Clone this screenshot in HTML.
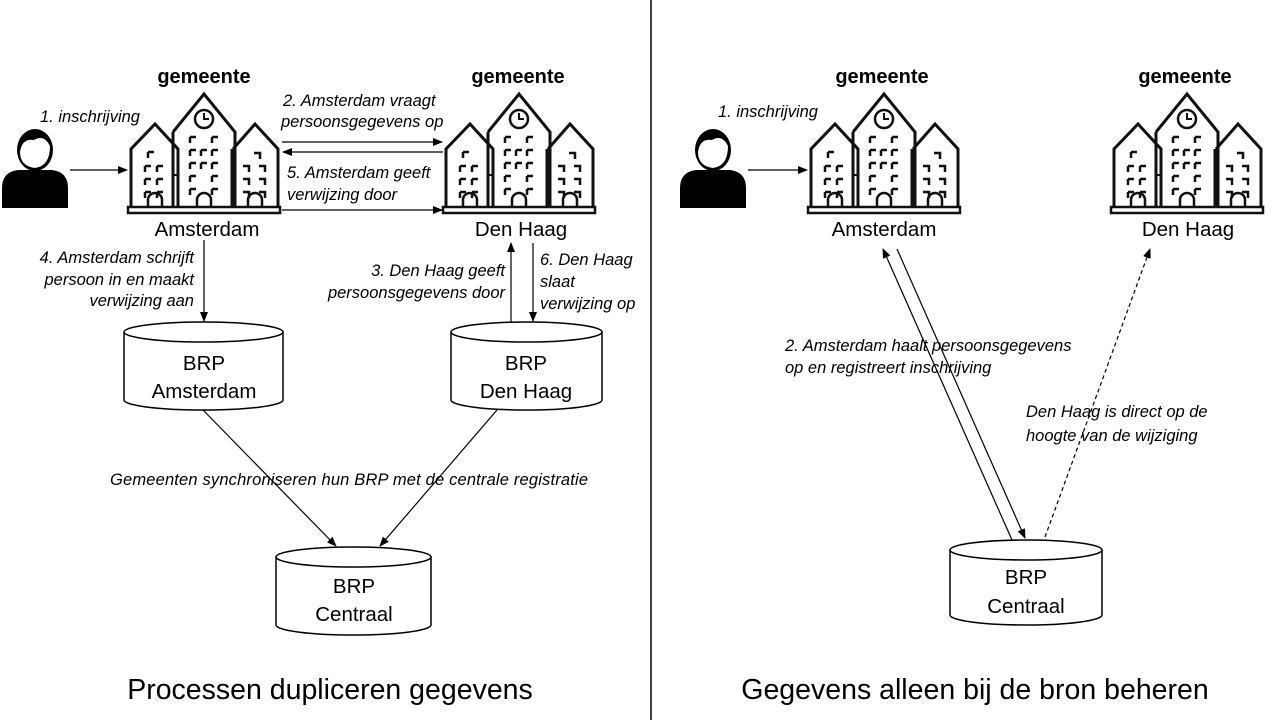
<!DOCTYPE html>
<html><head><meta charset="utf-8"><style>
html,body{margin:0;padding:0;background:#fff;}
svg{display:block;font-family:"Liberation Sans",sans-serif;}
.i{font-style:italic;font-size:16.5px;fill:#000;}
.n{font-size:20.5px;fill:#000;}
.g{font-size:20px;font-weight:bold;fill:#000;}
.t{font-size:28.5px;fill:#000;}
</style></head><body>
<svg width="1280" height="720" viewBox="0 0 1280 720">
<defs>
<marker id="a" markerWidth="10" markerHeight="8" refX="9" refY="4" orient="auto" markerUnits="userSpaceOnUse"><path d="M0,0 L10,4 L0,8z" fill="#000"/></marker>
<g id="bld" fill="none" stroke="#111" stroke-width="3">
 <path d="M3,115 V57 L27,32 L50,57 V115"/>
 <path d="M45,40 V115 M45,40 L76,2 L107,40 V115"/>
 <path d="M105,57 L127,32 L150,57 V115 M104,57 V115"/>
 <circle cx="76" cy="27" r="9" stroke-width="2.5"/>
 <path d="M76,21 V27 H81" stroke-width="2"/>
 <rect x="0" y="115" width="152" height="6" stroke-width="2.5"/>
 <path d="M50,83 H45 M107,83 H104" stroke-width="2"/>
 <g stroke-width="2.5">
 <path d="M20,60 h6 M20,60 v6 M17,74 h6 M17,74 v6 M29,74 h6 M29,74 v6 M17,87 h6 M17,87 v6 M29,87 h6 M29,87 v6 M17,100 h6 M17,100 v6 M29,100 h6 M29,100 v6"/>
 <path d="M62,45 h6 M62,45 v6 M84,45 h6 M84,45 v6 M62,58 h6 M62,58 v6 M73,58 h6 M73,58 v6 M84,58 h6 M84,58 v6 M62,71 h6 M62,71 v6 M73,71 h6 M73,71 v6 M84,71 h6 M84,71 v6 M62,84 h6 M62,84 v6 M84,84 h6 M84,84 v6 M62,97 h6 M62,97 v6 M84,97 h6 M84,97 v6"/>
 <path d="M126,61 h6 v6 M115,74 h6 v6 M131,74 h6 v6 M115,87 h6 v6 M131,87 h6 v6 M115,100 h6 v6 M131,100 h6 v6"/>
 </g>
 <path d="M20,115 v-7 a7,7 0 0 1 14,0 v7 M69,115 v-7 a7,7 0 0 1 14,0 v7 M120,115 v-7 a7,7 0 0 1 14,0 v7" stroke-width="2.5"/>
</g>
<g id="per" fill="#000">
 <path d="M2,208 V188 Q2,172 18,170 H52 Q68,172 68,188 V208 Z"/>
 <ellipse cx="35" cy="150" rx="18" ry="21"/>
 <path d="M20,152 Q22,138 34,140 Q44,134 50,146 Q50,166 35,168 Q20,166 20,152Z" fill="#fff"/>
</g>
</defs>

<line x1="651" y1="0" x2="651" y2="720" stroke="#000" stroke-width="1.5"/>

<!-- LEFT -->
<use href="#per"/>
<text class="g" x="204" y="83" text-anchor="middle">gemeente</text>
<text class="g" x="518" y="83" text-anchor="middle">gemeente</text>
<use href="#bld" x="128" y="92"/>
<use href="#bld" x="443" y="92"/>
<text class="n" x="207" y="236" text-anchor="middle">Amsterdam</text>
<text class="n" x="521" y="236" text-anchor="middle">Den Haag</text>
<text class="i" x="40" y="122">1. inschrijving</text>
<text class="i" x="283" y="106">2. Amsterdam vraagt</text>
<text class="i" x="281" y="127">persoonsgegevens op</text>
<text class="i" x="287" y="178">5. Amsterdam geeft</text>
<text class="i" x="287" y="200">verwijzing door</text>
<text class="i" x="194" y="263" text-anchor="end">4. Amsterdam schrijft</text>
<text class="i" x="194" y="285" text-anchor="end">persoon in en maakt</text>
<text class="i" x="194" y="306" text-anchor="end">verwijzing aan</text>
<text class="i" x="505" y="276" text-anchor="end">3. Den Haag geeft</text>
<text class="i" x="505" y="298" text-anchor="end">persoonsgegevens door</text>
<text class="i" x="540" y="265">6. Den Haag</text>
<text class="i" x="540" y="287">slaat</text>
<text class="i" x="540" y="309">verwijzing op</text>
<text class="i" x="110" y="485" textLength="478">Gemeenten synchroniseren hun BRP met de centrale registratie</text>

<g stroke="#000" stroke-width="1.2" fill="none" marker-end="url(#a)">
<line x1="70" y1="170" x2="127" y2="170"/>
<line x1="282" y1="142" x2="442" y2="142"/>
<line x1="443" y1="152" x2="283" y2="152"/>
<line x1="282" y1="210" x2="442" y2="210"/>
<line x1="204" y1="240" x2="204" y2="321"/>
<line x1="511" y1="322" x2="511" y2="243"/>
<line x1="533" y1="243" x2="533" y2="321"/>
<line x1="203" y1="410" x2="336" y2="546"/>
<line x1="497" y1="410" x2="380" y2="546"/>
</g>

<g stroke="#000" stroke-width="1.5" fill="#fff">
<path d="M124,332 V400 A79.5,10 0 0 0 283,400 V332"/><ellipse cx="203.5" cy="332" rx="79.5" ry="10"/>
<path d="M451,332 V400 A75.5,10 0 0 0 602,400 V332"/><ellipse cx="526.5" cy="332" rx="75.5" ry="10"/>
<path d="M276,557 V625 A77.5,10 0 0 0 431,625 V557"/><ellipse cx="353.5" cy="557" rx="77.5" ry="10"/>
<path d="M950,550 V615 A76,10 0 0 0 1102,615 V550"/><ellipse cx="1026" cy="550" rx="76" ry="10"/>
</g>
<text class="n" x="204" y="370" text-anchor="middle">BRP</text>
<text class="n" x="204" y="398" text-anchor="middle">Amsterdam</text>
<text class="n" x="526" y="370" text-anchor="middle">BRP</text>
<text class="n" x="526" y="398" text-anchor="middle">Den Haag</text>
<text class="n" x="354" y="593" text-anchor="middle">BRP</text>
<text class="n" x="354" y="621" text-anchor="middle">Centraal</text>
<text class="n" x="1026" y="584" text-anchor="middle">BRP</text>
<text class="n" x="1026" y="613" text-anchor="middle">Centraal</text>

<text class="t" x="330" y="699" text-anchor="middle">Processen dupliceren gegevens</text>
<text class="t" x="975" y="699" text-anchor="middle">Gegevens alleen bij de bron beheren</text>

<!-- RIGHT -->
<use href="#per" x="678"/>
<text class="g" x="882" y="83" text-anchor="middle">gemeente</text>
<text class="g" x="1185" y="83" text-anchor="middle">gemeente</text>
<use href="#bld" x="808" y="92"/>
<use href="#bld" x="1111" y="92"/>
<text class="n" x="884" y="236" text-anchor="middle">Amsterdam</text>
<text class="n" x="1188" y="236" text-anchor="middle">Den Haag</text>
<text class="i" x="718" y="117">1. inschrijving</text>
<text class="i" x="785" y="351">2. Amsterdam haalt persoonsgegevens</text>
<text class="i" x="785" y="373">op en registreert inschrijving</text>
<text class="i" x="1026" y="417">Den Haag is direct op de</text>
<text class="i" x="1026" y="441">hoogte van de wijziging</text>
<g stroke="#000" stroke-width="1.2" fill="none" marker-end="url(#a)">
<line x1="748" y1="170" x2="807" y2="170"/>
<line x1="1012" y1="540" x2="883" y2="249"/>
<line x1="897" y1="249" x2="1025" y2="538"/>
<line x1="1045" y1="537" x2="1150" y2="249" stroke-dasharray="4,3"/>
</g>
</svg>
</body></html>
